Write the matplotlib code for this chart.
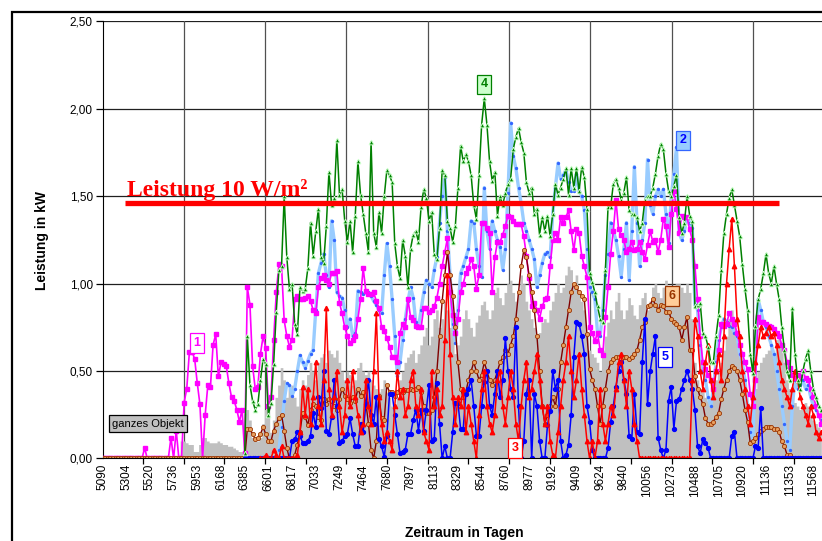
import matplotlib
matplotlib.use('Agg')
import matplotlib.pyplot as plt
import numpy as np
from matplotlib.patches import Rectangle
from matplotlib.ticker import FuncFormatter

plt.rcParams['font.family'] = ['Liberation Sans', 'DejaVu Sans']

# day numbers shown on the category axis (one label every 9 readings)
day_labels = ['5090', '5304', '5520', '5736', '5953', '6168', '6385', '6601',
              '6817', '7033', '7249', '7464', '7680', '7897', '8113', '8329',
              '8544', '8760', '8977', '9192', '9409', '9624', '9840', '10056',
              '10273', '10488', '10705', '10920', '11136', '11353', '11568']

# ganzes Objekt (grey columns), from reading 0
objekt = [0] * 30 + [
    0.10, 0.10, 0.09, 0.08, 0.08, 0.04, 0.04, 0.08, 0.12, 0.12,
    0.10, 0.09, 0.09, 0.09, 0.10, 0.09, 0.08, 0.08, 0.07, 0.07,
    0.06, 0.05, 0.04, 0.04, 0.26, 0.28, 0.22, 0.12, 0.10, 0.10,
    0.12, 0.20, 0.28, 0.30, 0.15, 0.22, 0.35, 0.42, 0.52, 0.45,
    0.35, 0.40, 0.42, 0.35, 0.30, 0.40, 0.45, 0.42, 0.48, 0.55,
    0.50, 0.45, 0.55, 0.58, 0.60, 0.55, 0.62, 0.60, 0.58, 0.62,
    0.55, 0.50, 0.45, 0.50, 0.48, 0.42, 0.45, 0.52, 0.55, 0.50,
    0.48, 0.50, 0.45, 0.42, 0.40, 0.38, 0.40, 0.45, 0.38, 0.35,
    0.30, 0.28, 0.35, 0.45, 0.50, 0.55, 0.58, 0.60, 0.62, 0.55,
    0.60, 0.65, 0.70, 0.75, 0.65, 0.70, 0.80, 0.85, 0.75, 0.80,
    0.90, 0.85, 0.75, 0.72, 0.60, 0.65, 0.70, 0.80, 0.85, 0.80,
    0.75, 0.70, 0.78, 0.82, 0.88, 0.90, 0.85, 0.80, 0.85, 0.95,
    0.98, 0.92, 0.88, 0.95, 1.00, 1.02, 0.95, 0.90, 0.95, 1.05,
    1.00, 0.90, 0.85, 0.80, 0.75, 0.70, 0.72, 0.78, 0.80, 0.78,
    0.85, 0.90, 0.95, 1.00, 0.95, 0.98, 1.05, 1.10, 1.08, 1.00,
    1.05, 0.95, 0.90, 0.85, 0.70, 0.62, 0.60, 0.58, 0.55, 0.50,
    0.62, 0.70, 0.78, 0.85, 0.80, 0.90, 0.95, 0.85, 0.80, 0.85,
    0.92, 0.88, 0.82, 0.80, 0.88, 0.92, 0.95, 0.85, 0.90, 0.98,
    1.00, 0.95, 0.92, 0.98, 1.02, 0.95, 0.90, 0.95, 1.00, 1.00,
    0.98, 0.95, 1.00, 0.95, 0.80, 0.55, 0.45, 0.40, 0.38, 0.35,
    0.33, 0.35, 0.38, 0.45, 0.50, 0.55, 0.62, 0.70, 0.80, 0.85,
    0.80, 0.70, 0.60, 0.50, 0.40, 0.32, 0.28, 0.30, 0.40, 0.50,
    0.55, 0.58, 0.60, 0.62, 0.65, 0.60, 0.68, 0.70, 0.65, 0.55,
    0.45, 0.40, 0.35, 0.32, 0.30, 0.28, 0.30, 0.32, 0.30, 0.25,
    0.22, 0.20, 0.18, 0.15]

# series 1 (magenta), from reading 0
s1 = [0] * 16 + [0.06] + [0] * 9 + [
    0.12, 0, 0.16, 0,
    0, 0.32, 0.40, 0.61, 0.61, 0.57, 0.43, 0.31, 0.0, 0.25,
    0.42, 0.41, 0.65, 0.71, 0.47, 0.55, 0.54, 0.53, 0.43, 0.35,
    0.33, 0.28, 0.21, 0.28, 0.03, 0.98, 0.88, 0.53, 0.40, 0.41,
    0.60, 0.70, 0.63, 0.30, 0.35, 0.68, 0.95, 1.11, 1.10, 0.79,
    0.70, 0.64, 0.68, 0.91, 0.93, 0.91, 0.91, 0.92, 0.93, 0.90,
    0.85, 0.83, 0.98, 1.03, 1.05, 1.02, 1.00, 1.06, 1.06, 1.07,
    0.89, 0.83, 0.75, 0.70, 0.66, 0.68, 0.70, 0.80, 0.91, 1.09,
    0.96, 0.94, 0.94, 0.95, 0.90, 0.86, 0.75, 0.73, 0.69, 0.64,
    0.58, 0.58, 0.55, 0.72, 0.77, 0.75, 0.91, 0.81, 0.79, 0.76,
    0.75, 0.75, 0.86, 0.86, 0.84, 0.85, 0.87, 0.92, 1.00, 1.10,
    1.18, 1.26, 0.95, 0.82, 0.72, 0.80, 0.95, 1.00, 1.06, 1.09,
    1.14, 1.10, 0.97, 1.05, 1.35, 1.35, 1.32, 1.29, 0.95, 1.15,
    1.24, 1.24, 1.28, 1.33, 1.39, 1.38, 1.36, 1.34, 1.34, 1.34,
    1.27, 1.16, 1.03, 0.87, 0.89, 0.85, 0.80, 0.87, 0.91, 0.92,
    1.10, 1.25, 1.29, 1.25, 1.38, 1.35, 1.38, 1.42, 1.30, 1.19,
    1.31, 1.29, 1.16, 1.10, 1.04, 0.75, 0.72, 0.67, 0.72, 0.62,
    0.59, 0.81, 0.98, 1.17, 1.30, 1.48, 1.31, 1.28, 1.25, 1.18,
    1.20, 1.24, 1.19, 1.20, 1.24, 1.18, 1.14, 1.22, 1.30, 1.24,
    1.25, 1.18, 1.25, 1.37, 1.33, 1.21, 1.40, 1.53, 1.43, 1.29,
    1.39, 1.38, 1.38, 1.31, 1.25, 1.10, 0.91, 0.70, 0.55, 0.51,
    0.48, 0.45, 0.40, 0.50, 0.62, 0.77, 0.76, 0.77, 0.83, 0.80,
    0.77, 0.72, 0.65, 0.60, 0.55, 0.51, 0.37, 0.30, 0.45, 0.81,
    0.78, 0.78, 0.77, 0.76, 0.75, 0.74, 0.72, 0.70, 0.65, 0.62,
    0.55, 0.52, 0.48, 0.46, 0.45, 0.48, 0.50, 0.46, 0.45, 0.40,
    0.35, 0.30, 0.25, 0.20]

# series 2 (light blue), from reading 66
s2_start = 66
s2 = [
    0.0, 0.05, 0.18, 0.33,
    0.43, 0.42, 0.36, 0.40, 0.50, 0.59, 0.55, 0.52, 0.56, 0.60,
    0.62, 0.85, 1.06, 1.12, 1.17, 1.05, 0.98, 1.36, 1.25, 0.95,
    0.93, 0.92, 0.85, 0.75, 0.80, 0.70, 0.72, 0.96, 0.95, 0.94,
    0.95, 0.95, 0.93, 0.90, 0.88, 0.85, 0.83, 1.05, 1.23, 1.10,
    0.91, 0.70, 0.47, 0.55, 0.68, 0.80, 0.90, 0.98, 0.92, 0.78,
    0.75, 0.85, 0.95, 1.02, 1.00, 0.98, 1.08, 1.15, 1.35, 1.50,
    1.61, 1.30, 1.05, 0.77, 0.66, 0.85, 1.06, 1.10, 1.15, 1.20,
    1.36, 1.35, 1.20, 1.10, 1.04, 1.55, 1.30, 1.20, 1.36, 1.30,
    1.25, 1.21, 1.08, 1.20, 1.52, 1.92, 1.73, 1.66, 1.55, 1.46,
    1.35, 1.30, 1.25, 1.20, 1.14, 0.98, 1.05, 1.12, 1.17, 1.18,
    1.15, 1.40, 1.55, 1.69, 1.60, 1.62, 1.65, 1.58, 1.53, 1.53,
    1.63, 1.53, 1.50, 1.42, 1.20, 0.98, 0.95, 0.91, 0.72, 0.70,
    0.85, 1.05, 1.17, 1.35, 1.30, 1.25, 1.16, 1.04, 1.20, 1.35,
    1.02, 1.30, 1.67, 1.35, 1.10, 1.25, 1.35, 1.71, 1.45, 1.40,
    1.50, 1.54, 1.50, 1.54, 1.40, 1.23, 1.50, 1.63, 1.78, 1.29,
    1.25, 1.30, 1.38, 1.35, 1.32, 0.88, 0.85, 0.65, 0.50, 0.45,
    0.35, 0.30, 0.40, 0.55, 0.68, 0.75, 0.80, 0.78, 0.76, 0.75,
    0.72, 0.70, 0.60, 0.55, 0.45, 0.30, 0.15, 0.10, 0.55, 0.91,
    0.85, 0.78, 0.75, 0.70, 0.65, 0.60, 0.50, 0.40, 0.30, 0.20,
    0.10, 0.05, 0.30, 0.45, 0.40, 0.42, 0.45, 0.40, 0.42, 0.35,
    0.30, 0.28, 0.25, 0.22]

# series 3 (red), from reading 60
s3_start = 60
s3 = [
    0, 0, 0.02, 0, 0, 0.05, 0.02, 0, 0.07, 0,
    0, 0, 0, 0, 0.02, 0.15, 0.41, 0.25, 0.40, 0.20,
    0.35, 0.55, 0.30, 0.20, 0.45, 0.86, 0.40, 0.25, 0.35, 0.50,
    0.30, 0.15, 0.25, 0.45, 0.30, 0.50, 0.35, 0.25, 0.15, 0.20,
    0.45, 0.30, 0.20, 0.50, 0.83, 0.35, 0.20, 0.10, 0.15, 0.10,
    0.05, 0.30, 0.50, 0.35, 0.40, 0.25, 0.30, 0.45, 0.50, 0.30,
    0.25, 0.40, 0.15, 0.10, 0.05, 0.50, 0.30, 0.40, 0.25, 0.30,
    0.68, 1.05, 0.60, 0.35, 0.20, 0.35, 0.30, 0.40, 0.15, 0.30,
    0.20, 0.10, 0.0, 0.25, 0.40, 0.50, 0.30, 0.20, 0.15, 0.25,
    0.45, 0.50, 0.30, 0.20, 0.35, 0.50, 0.40, 0.20, 0.10, 0.30,
    0.45, 0.55, 0.35, 0.40, 0.50, 0.60, 0.45, 0.30, 0.20, 0.30,
    0.10, 0.02, 0.0, 0.15, 0.30, 0.45, 0.55, 0.70, 0.50, 0.35,
    0.45, 0.60, 0.40, 0.25, 0.10, 0.0, 0.10, 0.0, 0.10, 0.40,
    0.20, 0.10, 0.20, 0.30, 0.25, 0.40, 0.55, 0.60, 0.45, 0.30,
    0.50, 0.40, 0.20, 0.10, 0, 0, 0, 0, 0, 0,
    0, 0, 0, 0, 0, 0, 0, 0, 0, 0,
    0, 0, 0, 0, 0.45, 0.80, 0.70, 0.50, 0.40, 0.55,
    0.65, 0.45, 0.35, 0.50, 0.60, 0.45, 0.70, 1.00, 1.20, 1.37,
    1.10, 0.80, 0.70, 0.50, 0.40, 0.30, 0.20, 0.35, 0.55, 0.65,
    0.75, 0.70, 0.72, 0.75, 0.70, 0.72, 0.65, 0.55, 0.45, 0.40,
    0.35, 0.30, 0.40, 0.50, 0.45, 0.35, 0.30, 0.25, 0.20, 0.30,
    0.25, 0.15, 0.12, 0.15]

# series 4 (green), from reading 54
s4_start = 54
s4 = [
    0.03, 0.70, 0.42, 0.33, 0.28, 0.31,
    0.45, 0.57, 0.54, 0.25, 0.32, 0.54, 0.84, 1.08, 1.10, 1.50,
    1.15, 0.97, 1.00, 0.77, 0.71, 0.98, 0.96, 0.97, 1.09, 1.35,
    1.16, 1.30, 1.43, 1.15, 1.12, 1.33, 1.64, 1.45, 1.49, 1.82,
    1.51, 1.54, 1.36, 1.24, 1.36, 1.18, 1.39, 1.70, 1.51, 1.40,
    1.29, 1.18, 1.81, 1.29, 1.21, 1.41, 1.29, 1.50, 1.65, 1.62,
    1.58, 1.23, 1.10, 1.03, 1.25, 1.16, 0.98, 1.20, 1.28, 1.30,
    1.24, 1.44, 1.54, 1.49, 1.36, 1.41, 1.17, 1.14, 1.32, 1.65,
    1.62, 1.36, 1.32, 1.24, 1.33, 1.55, 1.79, 1.70, 1.74, 1.70,
    1.62, 1.45, 1.37, 1.62, 1.91, 2.06, 1.91, 1.70, 1.59, 1.64,
    1.39, 1.50, 1.45, 1.52, 1.57, 1.60, 1.77, 1.84, 1.89, 1.81,
    1.75, 1.58, 1.52, 1.55, 1.40, 1.43, 1.28, 1.38, 1.30, 1.39,
    1.27, 1.40, 1.57, 1.51, 1.55, 1.60, 1.66, 1.51, 1.66, 1.55,
    1.66, 1.53, 1.67, 1.61, 1.43, 1.06, 1.01, 0.95, 0.87, 0.80,
    0.78, 1.08, 1.44, 1.44, 1.57, 1.60, 1.55, 1.48, 1.52, 1.61,
    1.42, 1.40, 1.40, 1.38, 1.30, 1.35, 1.48, 1.50, 1.50, 1.55,
    1.63, 1.73, 1.80, 1.77, 1.63, 1.53, 1.50, 1.56, 1.62, 1.38,
    1.29, 1.35, 1.50, 1.39, 1.36, 0.87, 0.88, 0.89, 0.72, 0.70,
    0.64, 0.55, 0.55, 0.70, 0.82, 1.08, 1.29, 1.40, 1.49, 1.54,
    1.45, 1.36, 1.27, 1.11, 0.97, 0.85, 0.60, 0.49, 0.76, 0.91,
    0.97, 1.06, 1.17, 1.06, 1.00, 1.10, 1.00, 0.91, 0.75, 0.62,
    0.50, 0.45, 0.86, 0.60, 0.45, 0.40, 0.50, 0.57, 0.62, 0.50,
    0.40, 0.35, 0.30, 0.28]

# series 5 (blue), from reading 54
s5_start = 54
s5 = [0] * 18 + [
    0.10, 0.11, 0.15, 0.13, 0.09, 0.09, 0.10, 0.13,
    0.26, 0.18, 0.35, 0.29, 0.50, 0.16, 0.14, 0.24, 0.45, 0.30,
    0.09, 0.10, 0.13, 0.14, 0.23, 0.14, 0.07, 0.07, 0.20, 0.15,
    0.31, 0.45, 0.25, 0.20, 0.35, 0.11, 0.07, 0.01, 0.13, 0.37,
    0.37, 0.25, 0.14, 0.03, 0.04, 0.05, 0.14, 0.14, 0.22, 0.28,
    0.16, 0.28, 0.16, 0.28, 0.42, 0.10, 0.11, 0.43, 0.20, 0.0,
    0.07, 0.0, 0.0, 0.15, 0.32, 0.32, 0.17, 0.17, 0.37, 0.40,
    0.45, 0.30, 0.13, 0.13, 0.30, 0.44, 0.50, 0.30, 0.25, 0.37,
    0.50, 0.35, 0.45, 0.69, 0.50, 0.40, 0.35, 0.75, 0.30, 0.0,
    0.10, 0.37, 0.45, 0.0, 0.37, 0.30, 0.10, 0.0, 0.0, 0.19,
    0.27, 0.50, 0.40, 0.45, 0.10, 0.0, 0.02, 0.08, 0.25, 0.58,
    0.78, 0.77, 0.70, 0.60, 0.30, 0.21, 0.05, 0.0, 0.0, 0.0,
    0.0, 0.0, 0.06, 0.21, 0.30, 0.41, 0.50, 0.55, 0.45, 0.37,
    0.13, 0.11, 0.37, 0.15, 0.14, 0.55, 0.80, 0.31, 0.50, 0.60,
    0.70, 0.12, 0.05, 0.0, 0.05, 0.33, 0.41, 0.17, 0.33, 0.34,
    0.40, 0.45, 0.50, 0.45, 0.40, 0.28, 0.07, 0.03, 0.11, 0.09,
    0.06, 0, 0, 0, 0, 0, 0, 0, 0, 0.13,
    0.15, 0, 0, 0, 0, 0, 0, 0, 0.07, 0.06,
    0.29, 0, 0, 0, 0, 0, 0, 0, 0, 0,
    0, 0, 0, 0, 0, 0, 0, 0, 0, 0,
    0, 0, 0, 0]

# series 6 (brown), from reading 0
s6 = [0] * 55 + [
    0.17, 0.17, 0.14, 0.11, 0.12,
    0.14, 0.18, 0.14, 0.10, 0.10, 0.16, 0.20, 0.23, 0.25, 0.16,
    0.06, 0.0, 0.0, 0.02, 0.08, 0.15, 0.26, 0.24, 0.19, 0.28,
    0.31, 0.30, 0.24, 0.22, 0.34, 0.31, 0.34, 0.33, 0.30, 0.28,
    0.34, 0.40, 0.36, 0.34, 0.32, 0.35, 0.33, 0.40, 0.36, 0.38,
    0.32, 0.20, 0.05, 0.0, 0.10, 0.36, 0.23, 0.22, 0.42, 0.38,
    0.38, 0.36, 0.38, 0.39, 0.38, 0.39, 0.39, 0.40, 0.39, 0.40,
    0.41, 0.38, 0.30, 0.26, 0.26, 0.28, 0.35, 0.50, 0.70, 0.90,
    1.05, 1.18, 1.05, 0.93, 0.75, 0.55, 0.40, 0.35, 0.38, 0.45,
    0.50, 0.55, 0.50, 0.45, 0.48, 0.55, 0.50, 0.45, 0.42, 0.45,
    0.50, 0.55, 0.58, 0.62, 0.60, 0.65, 0.70, 0.80, 0.95, 1.10,
    1.19, 1.15, 1.05, 0.95, 0.85, 0.70, 0.50, 0.30, 0.20, 0.25,
    0.30, 0.35, 0.30, 0.40, 0.55, 0.65, 0.75, 0.85, 0.95, 1.00,
    0.98, 0.95, 0.93, 0.91, 0.71, 0.51, 0.45, 0.40, 0.30, 0.20,
    0.30, 0.40, 0.50, 0.55, 0.57, 0.58, 0.58, 0.57, 0.58, 0.58,
    0.57, 0.58, 0.60, 0.62, 0.68, 0.75, 0.78, 0.87, 0.88, 0.91,
    0.88, 0.85, 0.88, 0.87, 0.84, 0.84, 0.80, 0.78, 0.77, 0.75,
    0.68, 0.75, 0.81, 0.62, 0.62, 0.47, 0.40, 0.35, 0.31, 0.23,
    0.20, 0.20, 0.21, 0.24, 0.26, 0.34, 0.40, 0.45, 0.50, 0.53,
    0.52, 0.50, 0.45, 0.37, 0.28, 0.21, 0.09, 0.10, 0.12, 0.14,
    0.16, 0.17, 0.18, 0.18, 0.18, 0.17, 0.17, 0.15, 0.10, 0.07,
    0.02, 0.02, 0, 0, 0, 0, 0, 0, 0, 0,
    0, 0, 0, 0]

limit_kw = 1.46          # Leistung 10 W/m²
limit_span = (8.5, 257)  # reading range covered by the limit bar

n_cat = 278
fig = plt.figure(figsize=(8.22, 5.41), dpi=100)

# chart frame, runs past the right and bottom edge
fig.patches.append(Rectangle((0.014, -0.5), 2.0, 0.5 + 0.9778, transform=fig.transFigure,
                             fill=False, edgecolor='black', linewidth=1.6))

ax = fig.add_axes([0.1247, 0.1525, 2.633 * n_cat / 822, 0.8078])
ax.set_xlim(0, n_cat)
ax.set_ylim(0, 2.5)

# grey columns for the whole building, drawn as one stepped area
xo = np.arange(len(objekt))
ax.fill_between(xo, objekt, step='mid', color='#C0C0C0', linewidth=0, zorder=1)


def series(start, vals, **kw):
    x = np.arange(start, start + len(vals))
    ax.plot(x, vals, clip_on=True, **kw)


series(s2_start, s2, color='#99CCFF', lw=2.4, marker='o', ms=1.4,
       mfc='#3366FF', mec='#3366FF', zorder=3)
series(0, s1, color='#FF00FF', lw=1.2, marker='s', ms=2.8,
       mfc='#FF00FF', mec='#FF00FF', zorder=4)
series(0, s6, color='#800000', lw=1.0, marker='o', ms=3.0,
       mfc='#E8A060', mec='#993300', mew=0.6, zorder=5)
series(s5_start, s5, color='#0000FF', lw=1.1, marker='o', ms=2.8,
       mfc='#0000FF', mec='#0000FF', zorder=6)
series(s3_start, s3, color='#FF0000', lw=1.1, marker='^', ms=3.2,
       mfc='#FF0000', mec='#FF0000', zorder=7)
series(s4_start, s4, color='#008000', lw=1.1, marker='^', ms=3.4,
       mfc='#008000', mec='#CCFFCC', mew=0.7, zorder=8)

# threshold bar and its label
ax.hlines(limit_kw, *limit_span, color='#FF0000', lw=3.8, zorder=9)
ax.text(9.3, 1.50, 'Leistung 10 W/m²', color='#FF0000', fontsize=17,
        fontweight='bold', family=['Liberation Serif', 'DejaVu Serif'],
        va='baseline', ha='left', zorder=10)

# grid: horizontal every 0.5 kW, vertical every 30.88 readings
for yv in np.arange(0.5, 2.51, 0.5):
    ax.axhline(yv, color='#202020', lw=0.9, zorder=0.5)
for xv in np.arange(30.88, n_cat, 30.88):
    ax.axvline(xv, color='#505050', lw=0.9, zorder=0.5)

ax.spines['left'].set_color('black')
ax.spines['bottom'].set_color('black')
ax.spines['bottom'].set_zorder(9)
ax.spines['top'].set_visible(False)
ax.spines['right'].set_visible(False)

ax.set_yticks(np.arange(0, 2.51, 0.5))
ax.yaxis.set_major_formatter(FuncFormatter(lambda v, p: f'{v:.2f}'.replace('.', ',')))
ax.tick_params(axis='y', length=5, width=0.9, labelsize=8.5, pad=2)

ax.set_xticks(np.arange(len(day_labels)) * 9)
ax.set_xticklabels(day_labels, rotation=90)
ax.tick_params(axis='x', which='major', length=0, labelsize=8.5, pad=4)
ax.set_xticks(np.arange(0, n_cat, 15.44), minor=True)
ax.tick_params(axis='x', which='minor', length=4, width=0.9, direction='out')

# series tags
tag = dict(fontsize=9, fontweight='bold', ha='center', va='center', zorder=12)
ax.text(35.9, 0.66, '1', color='#FF00FF',
        bbox=dict(boxstyle='square,pad=0.3', fc='white', ec='#FF00FF', lw=0.9), **tag)
ax.text(220.5, 1.82, '2', color='#0000FF',
        bbox=dict(boxstyle='square,pad=0.3', fc='#99CCFF', ec='#3366FF', lw=0.9), **tag)
ax.text(156.7, 0.06, '3', color='#FF0000',
        bbox=dict(boxstyle='square,pad=0.3', fc='white', ec='#FF0000', lw=0.9), **tag)
ax.text(144.9, 2.14, '4', color='#008000',
        bbox=dict(boxstyle='square,pad=0.3', fc='#CCFFCC', ec='#008000', lw=0.9), **tag)
ax.text(213.6, 0.58, '5', color='#0000FF',
        bbox=dict(boxstyle='square,pad=0.3', fc='white', ec='#0000FF', lw=0.9), **tag)
ax.text(216.3, 0.93, '6', color='#993300',
        bbox=dict(boxstyle='square,pad=0.3', fc='#FFCC99', ec='#993300', lw=0.9), **tag)
ax.text(17.3, 0.20, 'ganzes Objekt', color='black', fontsize=8, ha='center',
        va='center', zorder=12,
        bbox=dict(boxstyle='square,pad=0.3', fc='#C0C0C0', ec='black', lw=0.9))

fig.text(0.051, 0.556, 'Leistung in kW', rotation=90, fontsize=10,
         fontweight='bold', ha='center', va='center')
fig.text(0.5645, 0.0148, 'Zeitraum in Tagen', fontsize=10, fontweight='bold',
         ha='center', va='center')

fig.savefig('out.png', dpi=100)
